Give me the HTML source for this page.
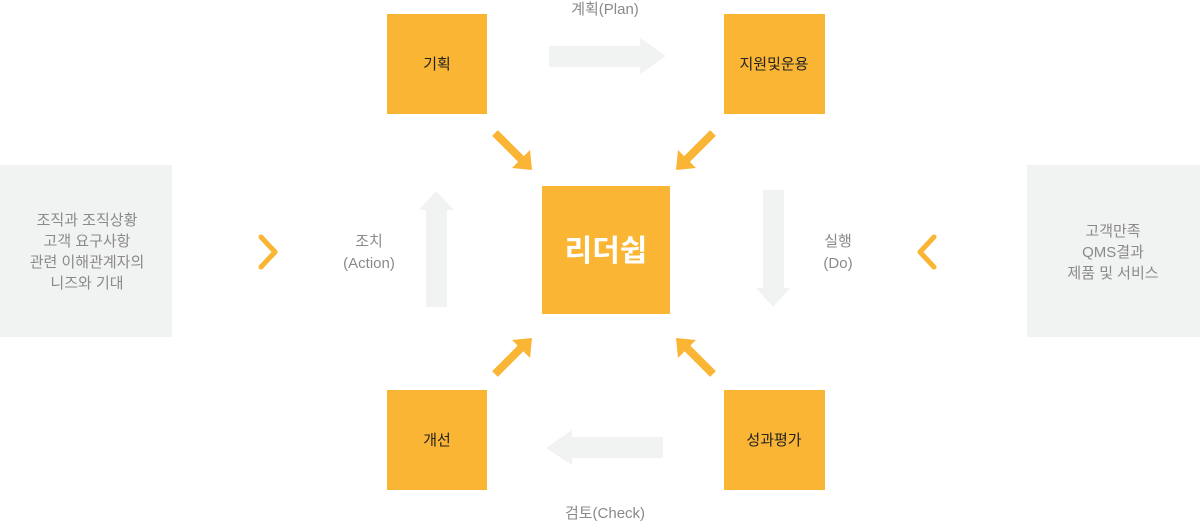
<!DOCTYPE html>
<html><head><meta charset="utf-8"><style>
html,body{margin:0;padding:0;background:#fff;width:1200px;height:523px;overflow:hidden}
svg{display:block}
text{font-family:"Liberation Sans","Noto Sans CJK KR",sans-serif}
</style></head><body>
<svg width="1200" height="523" viewBox="0 0 1200 523" xmlns="http://www.w3.org/2000/svg">
<rect x="0" y="165" width="172" height="172" fill="#f1f2f2"/>
<rect x="1027" y="165" width="173" height="172" fill="#f1f2f2"/>
<g font-size="15" fill="#8a8a8a" text-anchor="middle">
<text x="87" y="225">조직과 조직상황</text>
<text x="87" y="246">고객 요구사항</text>
<text x="87" y="267">관련 이해관계자의</text>
<text x="87" y="288">니즈와 기대</text>
<text x="1113" y="236">고객만족</text>
<text x="1113" y="257">QMS결과</text>
<text x="1113" y="278">제품 및 서비스</text>
<text x="605" y="14">계획(Plan)</text>
<text x="605" y="518">검토(Check)</text>
<text x="369" y="246">조치</text>
<text x="369" y="268">(Action)</text>
<text x="838" y="246">실행</text>
<text x="838" y="268">(Do)</text>
</g>
<g fill="#f9b533">
<rect x="387" y="14" width="100" height="100"/>
<rect x="724" y="14" width="101" height="100"/>
<rect x="387" y="390" width="100" height="100"/>
<rect x="724" y="390" width="101" height="100"/>
<rect x="542" y="186" width="128" height="128"/>
</g>
<g font-size="15" fill="#222" text-anchor="middle">
<text x="437" y="69">기획</text>
<text x="774" y="69">지원및운용</text>
<text x="437" y="445">개선</text>
<text x="774" y="445">성과평가</text>
</g>
<text x="606" y="261" font-size="30" fill="#fff" text-anchor="middle" font-weight="bold">리더쉽</text>
<g fill="#f1f2f2">
<polygon points="549,46 640,46 640,38 666,56 640,74 640,67 549,67"/>
<polygon points="663,437 572,437 572,430 546,448 572,465 572,458 663,458"/>
<polygon points="426,307 426,210 419,210 436,191 454,210 447,210 447,307"/>
<polygon points="763,190 763,288 756,288 773,307 790,288 784,288 784,190"/>
</g>
<g stroke="#f9b533" stroke-width="8" fill="none">
<line x1="495" y1="133" x2="524" y2="162"/>
<line x1="713" y1="133" x2="684" y2="162"/>
<line x1="495" y1="374" x2="524" y2="345"/>
<line x1="713" y1="374" x2="684" y2="345"/>
</g>
<g fill="#f9b533">
<polygon points="532,170 512,168 530,150"/>
<polygon points="676,170 678,150 696,168"/>
<polygon points="532,338 530,358 512,340"/>
<polygon points="676,338 696,340 678,358"/>
</g>
<g stroke="#f9b533" stroke-width="5" fill="none" stroke-linecap="round" stroke-linejoin="round">
<polyline points="261,237 275,252 261,267"/>
<polyline points="934,237 920,252 934,267"/>
</g>
</svg>
</body></html>
